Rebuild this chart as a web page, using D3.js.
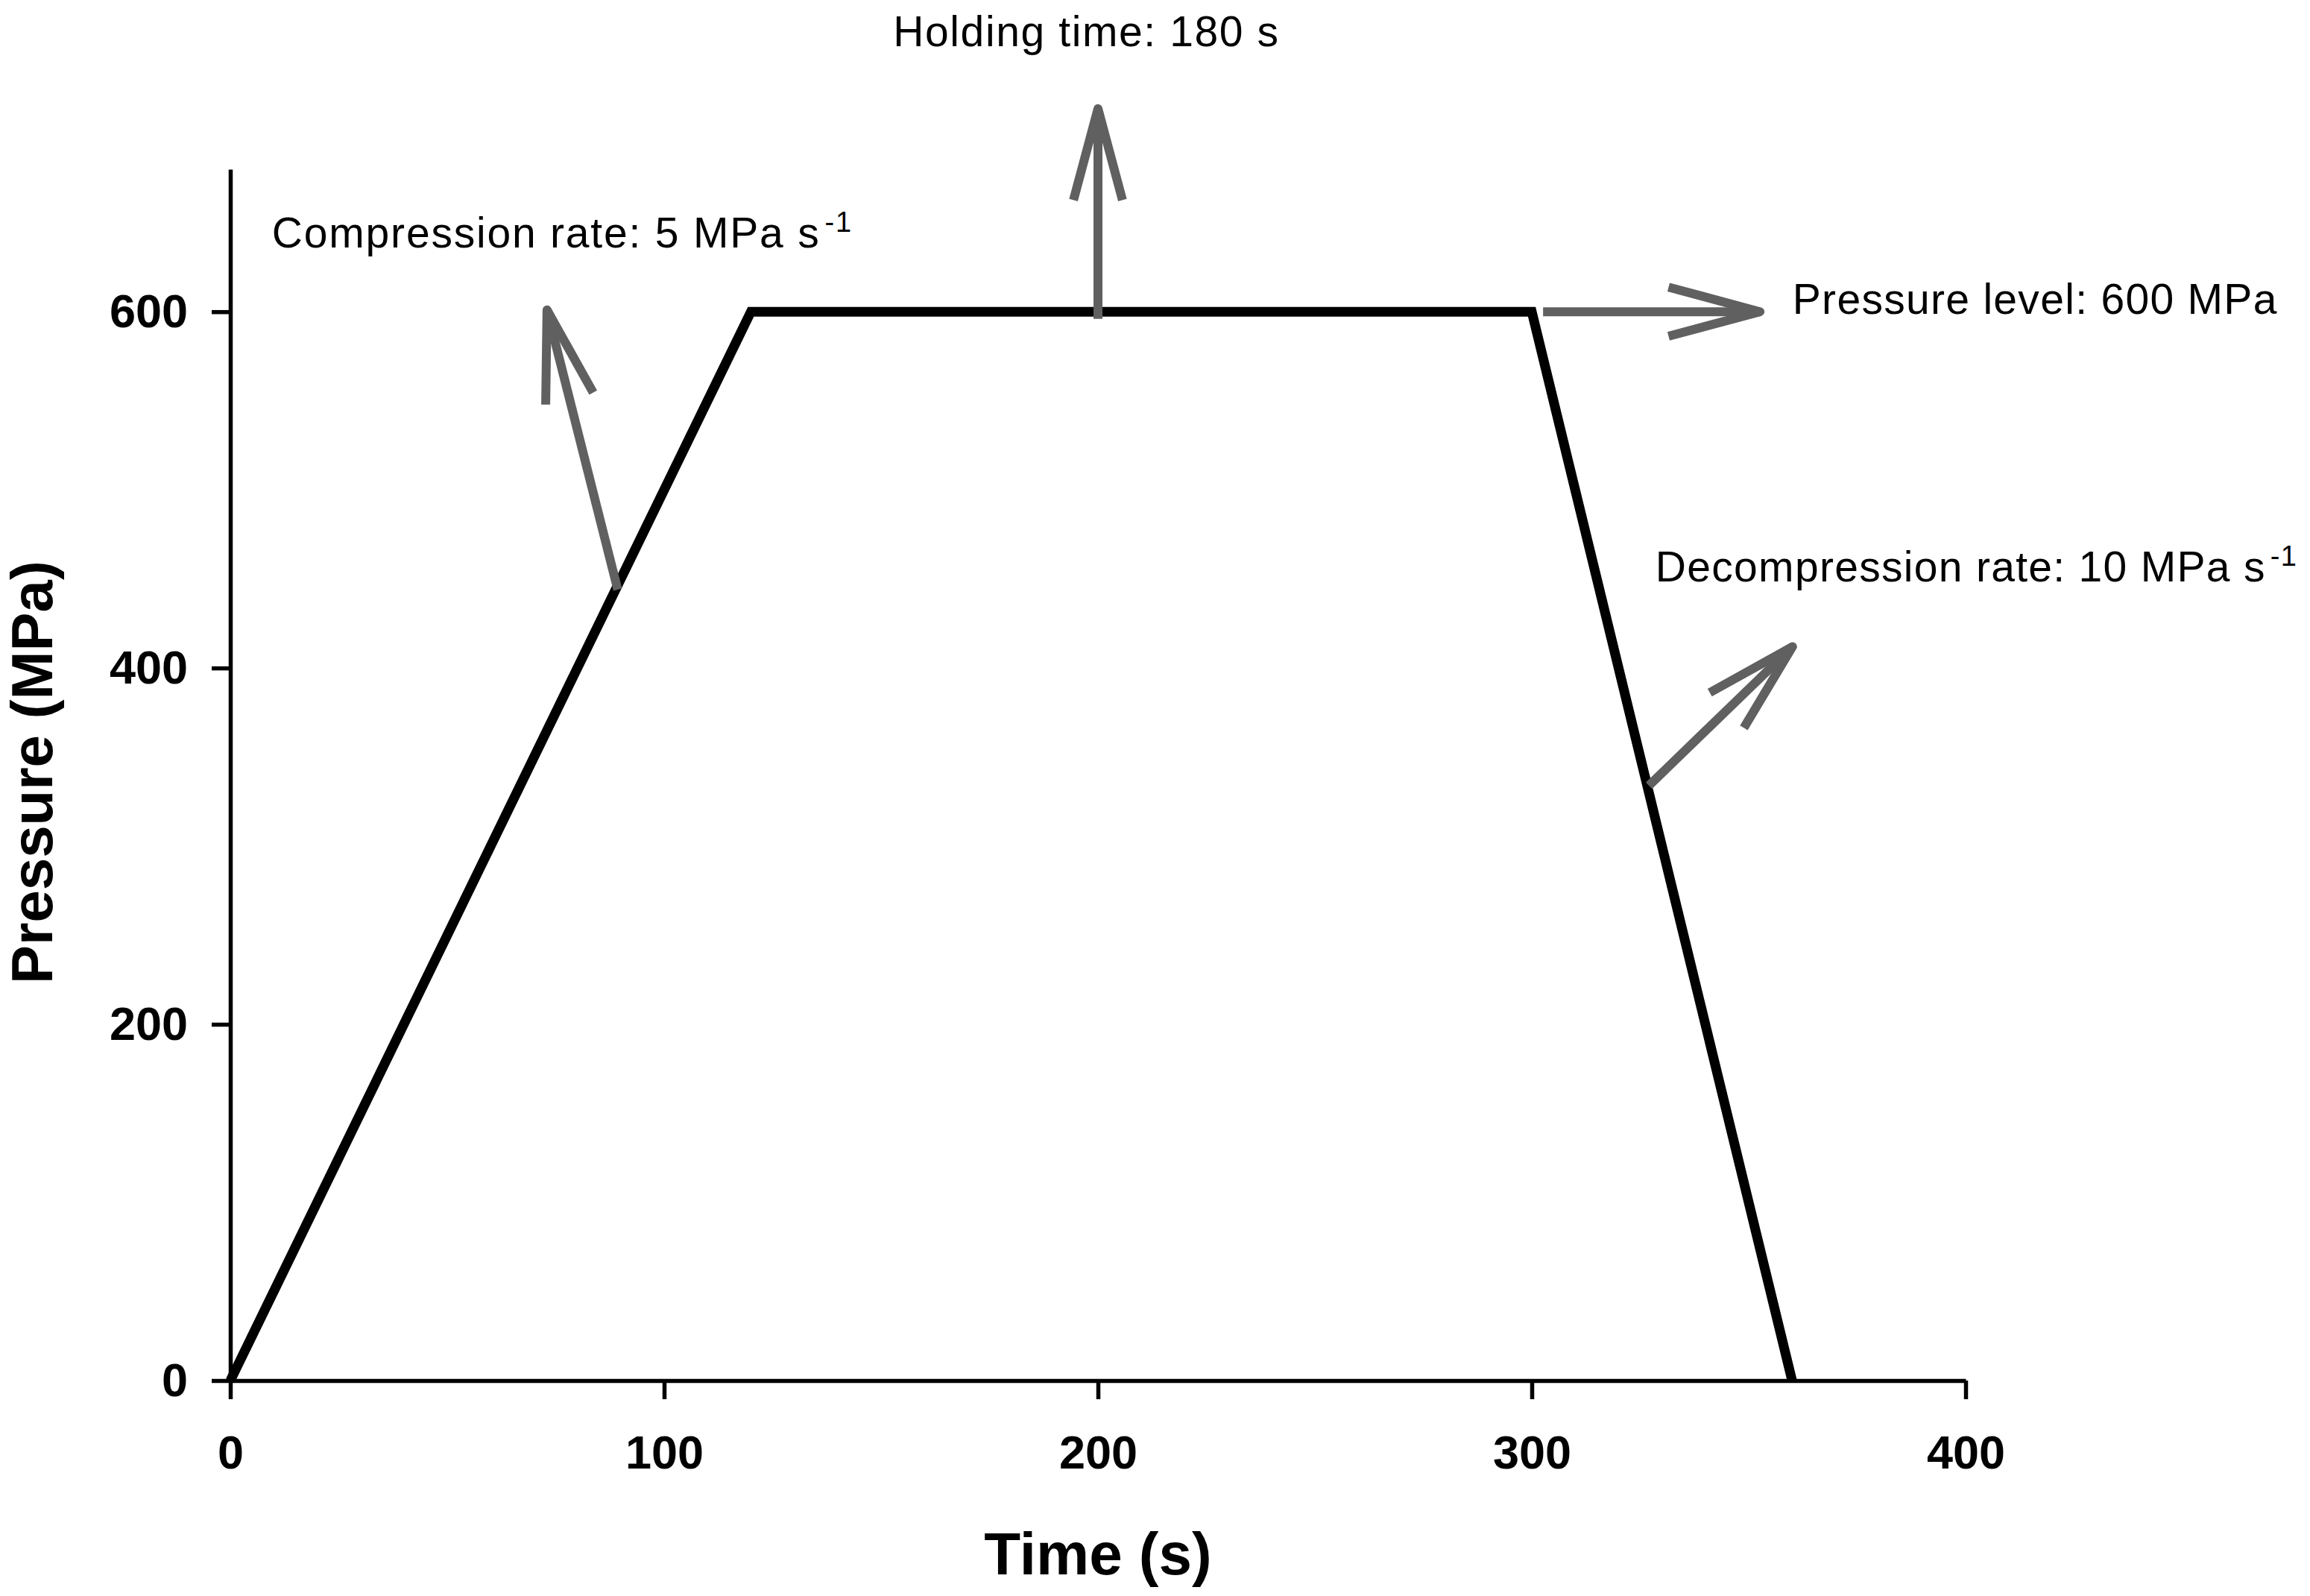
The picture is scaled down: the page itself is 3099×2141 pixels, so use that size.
<!DOCTYPE html>
<html>
<head>
<meta charset="utf-8">
<script src="https://cdn.jsdelivr.net/npm/d3@7"></script>
<style>
  html, body { margin: 0; padding: 0; background: #ffffff; }
  svg { display: block; }
</style>
</head>
<body>
<svg id="chart" width="3099" height="2141"></svg>
<script>
// ---- data ----
const timeValues = [0, 120, 300, 360];
const pressureValues = [0, 600, 600, 0];
const xTickValues = [0, 100, 200, 300, 400];
const yTickValues = [0, 200, 400, 600];
const xAxisTitle = "Time (s)";
const yAxisTitle = "Pressure (MPa)";

// annotation arrows (in data units: time, pressure)
const arrowStartTime     = [89.3, 200, 302.6, 327];
const arrowStartPressure = [444, 596, 600, 334];
const arrowEndTime       = [73, 200, 352.6, 360.1];
const arrowEndPressure   = [601, 714, 600, 412];

// annotation texts (anchor in data units)
const noteMain  = ["Compression rate: 5 MPa s", "Holding time: 180 s", "Pressure level: 600 MPa", "Decompression rate: 10 MPa s"];
const noteSup   = ["-1", "", "", "-1"];
const noteTime  = [9.6, 152.8, 360.1, 328.5];
const notePress = [636, 749, 598.7, 448.5];

// ---- chart ----
const svg = d3.select("#chart");
svg.append("rect").attr("width", 3099).attr("height", 2141).attr("fill", "#ffffff");

const x = d3.scaleLinear().domain([0, 400]).range([309, 2637]);
const y = d3.scaleLinear().domain([0, 680]).range([1852, 227]);

const font = "'Liberation Sans', Arial, Helvetica, sans-serif";

// axes
const xAxis = d3.axisBottom(x).tickValues(xTickValues).tickSize(25).tickSizeOuter(0).tickPadding(48);
const yAxis = d3.axisLeft(y).tickValues(yTickValues).tickSize(25).tickSizeOuter(0).tickPadding(32);

const gx = svg.append("g").attr("transform", `translate(0,${y(0)})`).call(xAxis);
const gy = svg.append("g").attr("transform", `translate(${x(0)},0)`).call(yAxis);

[gx, gy].forEach(g => {
  g.selectAll("path.domain").attr("stroke", "#000").attr("stroke-width", 5.5);
  g.selectAll(".tick line").attr("stroke", "#000").attr("stroke-width", 5.5);
  g.selectAll(".tick text")
    .attr("fill", "#000")
    .style("font-family", font)
    .style("font-weight", "bold")
    .style("font-size", "63px");
});

// data line
const pts = timeValues.map((t, i) => [t, pressureValues[i]]);
svg.append("path")
  .datum(pts)
  .attr("fill", "none")
  .attr("stroke", "#000")
  .attr("stroke-width", 13)
  .attr("stroke-linejoin", "miter")
  .attr("d", d3.line().x(d => x(d[0])).y(d => y(d[1])));

// arrows
const arrowColor = "#606060";
const headLen = 127, headAng = 15 * Math.PI / 180;
arrowStartTime.forEach((_, i) => {
  const x0 = x(arrowStartTime[i]), y0 = y(arrowStartPressure[i]);
  const x1 = x(arrowEndTime[i]), y1 = y(arrowEndPressure[i]);
  const ang = Math.atan2(y0 - y1, x0 - x1);
  const b1 = [x1 + headLen * Math.cos(ang + headAng), y1 + headLen * Math.sin(ang + headAng)];
  const b2 = [x1 + headLen * Math.cos(ang - headAng), y1 + headLen * Math.sin(ang - headAng)];
  const g = svg.append("g").attr("stroke", arrowColor).attr("stroke-width", 12).attr("fill", "none");
  g.append("line").attr("x1", x0).attr("y1", y0).attr("x2", x1).attr("y2", y1);
  g.append("path")
    .attr("stroke-linejoin", "round")
    .attr("d", `M${b1[0]},${b1[1]}L${x1},${y1}L${b2[0]},${b2[1]}`);
});

// annotation texts
const noteSpacing = ["1.8px", "1.6px", "1.3px", "1.3px"];
noteMain.forEach((txt, i) => {
  const t = svg.append("text")
    .attr("x", x(noteTime[i]))
    .attr("y", y(notePress[i]))
    .style("font-family", font)
    .style("font-size", "57px")
    .style("letter-spacing", noteSpacing[i])
    .attr("fill", "#000");
  t.append("tspan").text(txt);
  if (noteSup[i]) {
    t.append("tspan").attr("dx", 6).attr("dy", -21).style("font-size", "38px").text(noteSup[i]);
  }
});

// axis titles
svg.append("text")
  .attr("x", (x(0) + x(400)) / 2)
  .attr("y", 2112)
  .attr("text-anchor", "middle")
  .style("font-family", font)
  .style("font-weight", "bold")
  .style("font-size", "80px")
  .attr("fill", "#000")
  .text(xAxisTitle);

svg.append("text")
  .attr("transform", `translate(70,1036) rotate(-90)`)
  .attr("text-anchor", "middle")
  .style("font-family", font)
  .style("font-weight", "bold")
  .style("font-size", "78px")
  .attr("fill", "#000")
  .text(yAxisTitle);
</script>
</body>
</html>
